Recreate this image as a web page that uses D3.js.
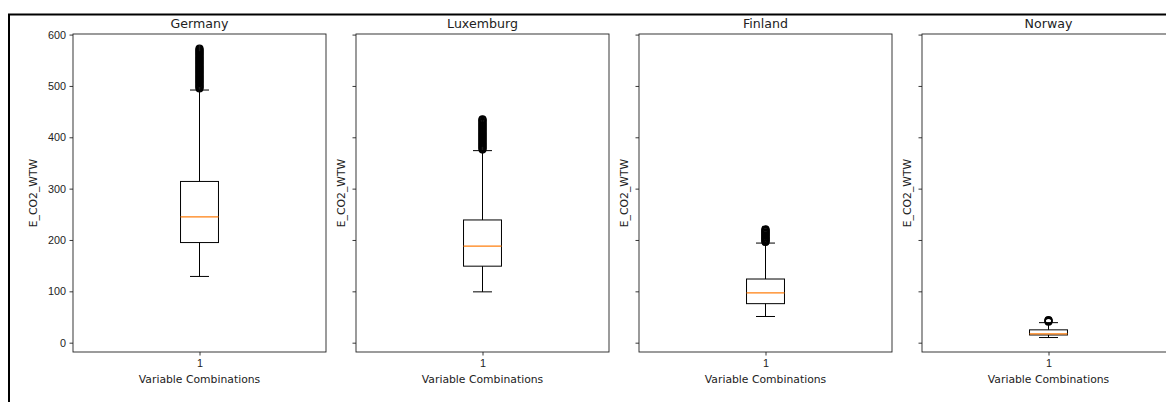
<!DOCTYPE html>
<html>
<head>
<meta charset="utf-8">
<script src="https://cdn.jsdelivr.net/npm/d3@7"></script>
<style>
  html, body { margin: 0; padding: 0; background: #fff; }
  svg { display: block; font-family: "DejaVu Sans", sans-serif; }
</style>
</head>
<body>
<svg id="chart" width="1166" height="402"></svg>
<script>
// Panel titles (one box plot per country)
const countries = ["Germany", "Luxemburg", "Finland", "Norway"];

// Five-number summaries of E_CO2_WTW per country
const whiskerLow  = [129, 99, 51, 10];
const quartile1   = [195, 149, 76, 15];
const medians     = [245, 188, 97, 17];
const quartile3   = [314, 239, 124, 25];
const whiskerHigh = [492, 374, 194, 39];

// Outliers above the upper whisker
const fliersGermany   = [495, 497, 499, 501, 503, 505, 507, 509, 511, 513, 515, 517, 519, 521, 523, 525, 527, 529, 531, 533, 535, 537, 539, 541, 543, 545, 547, 549, 551, 553, 555, 557, 559, 561, 563, 565, 567, 569, 571, 573];
const fliersLuxemburg = [376, 378, 380, 382, 384, 386, 388, 390, 392, 394, 396, 398, 400, 402, 404, 406, 408, 410, 412, 414, 416, 418, 420, 422, 424, 426, 428, 430, 432, 434, 435];
const fliersFinland   = [196, 197, 199, 200, 202, 203, 205, 206, 208, 209, 211, 212, 214, 215, 217, 218, 220, 221];
const fliersNorway    = [41, 42, 43, 44];
const fliers = [fliersGermany, fliersLuxemburg, fliersFinland, fliersNorway];

const yTicks = [0, 100, 200, 300, 400, 500, 600];
const xTickLabels = ["1"];
const yLabel = "E_CO2_WTW";
const xLabel = "Variable Combinations";

const svg = d3.select("#chart");
const ink = "#222";

// Outer frame lines
svg.append("path")
  .attr("d", "M9,402 V14.5 H1166")
  .attr("fill", "none").attr("stroke", "#000").attr("stroke-width", 2);

// Shared y domain: data extent padded by 5% on each side
const allVals = whiskerLow.concat(whiskerHigh, ...fliers);
const lo = d3.min(allVals), hi = d3.max(allVals);
const pad = (hi - lo) * 0.05;

const plotTop = 34, plotBottom = 352;
const panelW = 253, step = 283, firstLeft = 73;

const y = d3.scaleLinear().domain([lo - pad, hi + pad]).range([plotBottom, plotTop]);

countries.forEach((name, i) => {
  const left = firstLeft + i * step;
  const g = svg.append("g").attr("transform", `translate(${left},0)`);
  const x = d3.scaleLinear().domain([0.5, 1.5]).range([0, panelW]);
  const cx = x(1);
  const boxHalf = (x(1.075) - x(0.925)) / 2;
  const capHalf = boxHalf / 2;

  // y axis (labels only on the first panel)
  const yAxis = d3.axisLeft(y).tickValues(yTicks).tickSize(3.5).tickPadding(3.5)
    .tickFormat(i === 0 ? d3.format("d") : () => "");
  const ya = g.append("g").call(yAxis);
  ya.select(".domain").remove();
  ya.selectAll("line").attr("stroke", ink).attr("stroke-width", 0.9);
  ya.selectAll("text").attr("fill", ink).style("font-size", "10.8px");

  // x axis
  const xAxis = d3.axisBottom(x).tickValues([1]).tickSize(3.5).tickPadding(3.5)
    .tickFormat((d, k) => xTickLabels[k]);
  const xa = g.append("g").attr("transform", `translate(0,${plotBottom})`).call(xAxis);
  xa.select(".domain").remove();
  xa.selectAll("line").attr("stroke", ink).attr("stroke-width", 0.9);
  xa.selectAll("text").attr("fill", ink).style("font-size", "10.8px");

  // frame
  g.append("rect").attr("x", 0).attr("y", plotTop).attr("width", panelW).attr("height", plotBottom - plotTop)
    .attr("fill", "none").attr("stroke", ink).attr("stroke-width", 0.9);

  // whiskers
  g.append("line").attr("x1", cx).attr("x2", cx).attr("y1", y(whiskerLow[i])).attr("y2", y(quartile1[i]))
    .attr("stroke", "#000").attr("stroke-width", 1);
  g.append("line").attr("x1", cx).attr("x2", cx).attr("y1", y(quartile3[i])).attr("y2", y(whiskerHigh[i]))
    .attr("stroke", "#000").attr("stroke-width", 1);
  // caps
  [whiskerLow[i], whiskerHigh[i]].forEach(v => {
    g.append("line").attr("x1", cx - capHalf).attr("x2", cx + capHalf).attr("y1", y(v)).attr("y2", y(v))
      .attr("stroke", "#000").attr("stroke-width", 1);
  });
  // box
  g.append("rect").attr("x", cx - boxHalf).attr("width", boxHalf * 2)
    .attr("y", y(quartile3[i])).attr("height", y(quartile1[i]) - y(quartile3[i]))
    .attr("fill", "none").attr("stroke", "#000").attr("stroke-width", 1);
  // median
  g.append("line").attr("x1", cx - boxHalf).attr("x2", cx + boxHalf)
    .attr("y1", y(medians[i])).attr("y2", y(medians[i]))
    .attr("stroke", "#ff7f0e").attr("stroke-width", 1.2);
  // outliers
  g.selectAll("circle.flier").data(fliers[i]).join("circle")
    .attr("class", "flier").attr("cx", cx).attr("cy", d => y(d)).attr("r", 3.4)
    .attr("fill", "none").attr("stroke", "#000").attr("stroke-width", 1.3);

  // title
  g.append("text").attr("x", panelW / 2).attr("y", plotTop - 6).attr("text-anchor", "middle")
    .attr("fill", ink).style("font-size", "12.6px").text(name);
  // x label
  g.append("text").attr("x", panelW / 2).attr("y", 383).attr("text-anchor", "middle")
    .attr("fill", ink).style("font-size", "10.8px").text(xLabel);
  // y label
  const lx = i === 0 ? -36 : -11;
  g.append("text").attr("transform", `translate(${lx},${(plotTop + plotBottom) / 2}) rotate(-90)`)
    .attr("text-anchor", "middle").attr("fill", ink).style("font-size", "10.8px").text(yLabel);
});
</script>
</body>
</html>
